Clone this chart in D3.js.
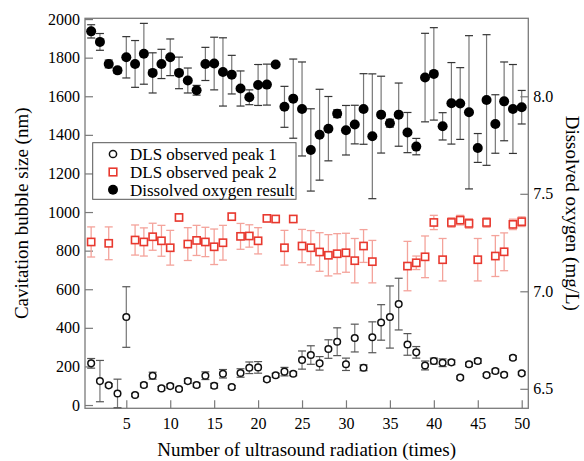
<!DOCTYPE html>
<html>
<head>
<meta charset="utf-8">
<script src="https://cdn.jsdelivr.net/npm/d3@7"></script>
<style>
  html, body { margin: 0; padding: 0; background: #fff; }
  svg { display: block; }
  text { font-family: "Liberation Serif", "Tinos", "Times New Roman", "DejaVu Serif", serif; fill: #000; }
</style>
</head>
<body>
<div id="chart"></div>
<script>
const WIDTH = 584;
const HEIGHT = 461;
const SERIF = '"Liberation Serif", "Tinos", "Times New Roman", "DejaVu Serif", serif';

// measurement number (1..50)
const runs = d3.range(1, 51);

// DLS peak 1 (nm) and its error
const peak1 = [216, 124, 102, 60, 456, 52, 104, 152, 86, 98, 83, 124, 104, 152, 100, 162, 93, 166, 193, 195,
  133, 154, 173, 162, 233, 259, 216, 290, 328, 211, 347, 193, 351, 428, 456, 523, 314, 273, 205, 228,
  219, 221, 142, 211, 228, 155, 176, 157, 245, 164];
const peak1Err = [25, 107, 8, 74, 157, 8, 10, 18, 10, 10, 8, 12, 10, 20, 12, 22, 8, 22, 30, 30,
  10, 10, 22, 10, 47, 48, 35, 48, 72, 32, 72, 15, 80, 92, 161, 134, 56, 30, 23, 15,
  20, 12, 8, 10, 12, 8, 10, 8, 10, 8];

// DLS peak 2 (nm), null where not observed
const peak2 = [845, null, 838, null, null, 855, 845, 872, 851, 815, 972, 834, 853, 845, 820, 841, 976, 874, 876, 851,
  967, 964, 815, 964, 824, 815, 793, 776, 784, 789, 748, 824, 743, null, null, null, 720, 737, 768, 946,
  753, 946, 958, 941, 753, 946, 772, 794, 936, 950];
const peak2Err = [78, 0, 85, 0, 0, 78, 73, 70, 80, 90, 18, 85, 78, 76, 92, 90, 18, 67, 58, 68,
  15, 15, 90, 15, 86, 89, 100, 107, 104, 101, 115, 85, 110, 0, 0, 0, 128, 35, 108, 37,
  110, 25, 25, 25, 110, 25, 106, 98, 27, 25];

// dissolved oxygen (mg/L) and its error
const oxygen = [8.333, 8.279, 8.166, 8.133, 8.200, 8.166, 8.218, 8.120, 8.166, 8.200, 8.120, 8.081, 8.031, 8.166, 8.168,
  8.125, 8.111, 8.040, 7.995, 8.058, 8.060, 8.163, 7.946, 7.988, 7.935, 7.725, 7.803, 7.834, 7.911, 7.826,
  7.855, 7.935, 7.795, 7.906, 7.862, 7.906, 7.814, 7.742, 8.096, 8.115, 7.846, 7.964, 7.963, 7.918, 7.735,
  7.981, 7.858, 7.974, 7.935, 7.944];
const oxygenErr = [0.034, 0.043, 0.02, 0.015, 0.106, 0.12, 0.156, 0.103, 0.075, 0.094, 0.081, 0.064, 0.025, 0.085, 0.135,
  0.175, 0.099, 0.09, 0.038, 0.105, 0.105, 0, 0.105, 0.203, 0.241, 0.211, 0.233, 0.165, 0.02, 0.127,
  0.099, 0.181, 0.32, 0.197, 0.02, 0.162, 0.103, 0.042, 0.227, 0.237, 0.07, 0.209, 0.184, 0.393, 0.074,
  0.335, 0.15, 0.202, 0.228, 0.086];

const xTicks = [5, 10, 15, 20, 25, 30, 35, 40, 45, 50];
const leftTicks = [0, 200, 400, 600, 800, 1000, 1200, 1400, 1600, 1800, 2000];
const rightTicks = [6.5, 7.0, 7.5, 8.0];

const legendLabels = ["DLS observed peak 1", "DLS observed peak 2", "Dissolved oxygen result"];

const margin = { top: 18.3, right: 55.7, bottom: 52.7, left: 85 };
const FRAME = "#7a7a7a";
const RED = "#e8392f";
const RED_LIGHT = "#f4a39b";

const x = d3.scaleLinear().domain([0.3, 50.75]).range([margin.left, WIDTH - margin.right]);
const yL = d3.scaleLinear().domain([-17, 2004]).range([HEIGHT - margin.bottom, margin.top]);
const yR = d3.scaleLinear().domain([6.4, 8.4]).range([HEIGHT - margin.bottom, margin.top]);

const svg = d3.select("#chart").append("svg")
  .attr("width", WIDTH)
  .attr("height", HEIGHT)
  .attr("font-family", SERIF);

// axes (ticks point inward)
const xAxisG = svg.append("g")
  .attr("transform", `translate(0,${HEIGHT - margin.bottom})`)
  .call(d3.axisBottom(x).tickValues(xTicks).tickSizeInner(-8).tickSizeOuter(0).tickPadding(9));

const yLAxisG = svg.append("g")
  .attr("transform", `translate(${margin.left},0)`)
  .call(d3.axisLeft(yL).tickValues(leftTicks).tickFormat(d3.format("d"))
    .tickSizeInner(-8).tickSizeOuter(0).tickPadding(5));

const yRAxisG = svg.append("g")
  .attr("transform", `translate(${WIDTH - margin.right},0)`)
  .call(d3.axisRight(yR).tickValues(rightTicks).tickFormat(d3.format(".1f"))
    .tickSizeInner(-8).tickSizeOuter(0).tickPadding(5));

[xAxisG, yLAxisG, yRAxisG].forEach(g => {
  g.attr("font-family", SERIF).attr("font-size", 16);
  g.select(".domain").remove();
  g.selectAll(".tick line").attr("stroke", FRAME).attr("stroke-width", 1.2);
  g.selectAll(".tick text").attr("fill", "#000");
});

// frame
svg.append("rect")
  .attr("x", margin.left)
  .attr("y", margin.top)
  .attr("width", WIDTH - margin.left - margin.right)
  .attr("height", HEIGHT - margin.top - margin.bottom)
  .attr("fill", "none")
  .attr("stroke", FRAME)
  .attr("stroke-width", 1.3);

// axis titles
svg.append("text")
  .attr("transform", `translate(28,${(margin.top + HEIGHT - margin.bottom) / 2}) rotate(-90)`)
  .attr("text-anchor", "middle")
  .attr("font-size", 19)
  .text("Cavitation bubble size (nm)");

svg.append("text")
  .attr("transform", `translate(566,${(margin.top + HEIGHT - margin.bottom) / 2}) rotate(90)`)
  .attr("text-anchor", "middle")
  .attr("font-size", 19)
  .text("Dissolved oxygen (mg/L)");

svg.append("text")
  .attr("x", (margin.left + WIDTH - margin.right) / 2)
  .attr("y", 456)
  .attr("text-anchor", "middle")
  .attr("font-size", 19)
  .text("Number of ultrasound radiation (times)");

function errorBars(data, yScale, lineColor, capColor, width) {
  const g = svg.append("g");
  const rows = data.filter(d => d.v !== null && d.e > 0);
  g.selectAll("line.bar").data(rows).join("line")
    .attr("x1", d => x(d.i)).attr("x2", d => x(d.i))
    .attr("y1", d => yScale(d.v - d.e)).attr("y2", d => yScale(d.v + d.e))
    .attr("stroke", lineColor).attr("stroke-width", width);
  [-1, 1].forEach(s => {
    g.selectAll(null).data(rows).join("line")
      .attr("x1", d => x(d.i) - 4).attr("x2", d => x(d.i) + 4)
      .attr("y1", d => yScale(d.v + s * d.e)).attr("y2", d => yScale(d.v + s * d.e))
      .attr("stroke", capColor).attr("stroke-width", width);
  });
}

const p1Data = runs.map((i, k) => ({ i, v: peak1[k], e: peak1Err[k] }));
const p2Data = runs.map((i, k) => ({ i, v: peak2[k], e: peak2Err[k] }));
const doData = runs.map((i, k) => ({ i, v: oxygen[k], e: oxygenErr[k] }));

// peak 2 (red squares)
errorBars(p2Data, yL, RED_LIGHT, RED_LIGHT, 1.3);
svg.append("g").selectAll("rect").data(p2Data.filter(d => d.v !== null)).join("rect")
  .attr("x", d => x(d.i) - 3.6)
  .attr("y", d => yL(d.v) - 3.6)
  .attr("width", 7.2)
  .attr("height", 7.2)
  .attr("fill", "#fff")
  .attr("stroke", RED)
  .attr("stroke-width", 1.6);

// peak 1 (open circles)
errorBars(p1Data, yL, "#777", "#555", 1.2);
svg.append("g").selectAll("circle").data(p1Data).join("circle")
  .attr("cx", d => x(d.i))
  .attr("cy", d => yL(d.v))
  .attr("r", 3.3)
  .attr("fill", "#fff")
  .attr("stroke", "#111")
  .attr("stroke-width", 1.5);

// dissolved oxygen (filled circles, right axis)
errorBars(doData, yR, "#777", "#333", 1.2);
svg.append("g").selectAll("circle").data(doData).join("circle")
  .attr("cx", d => x(d.i))
  .attr("cy", d => yR(d.v))
  .attr("r", 5)
  .attr("fill", "#000");

// legend
const legend = svg.append("g");
legend.append("rect")
  .attr("x", 92.7).attr("y", 142.7)
  .attr("width", 203.3).attr("height", 56.6)
  .attr("fill", "#fff")
  .attr("stroke", "#555")
  .attr("stroke-width", 1);

const rowY = [154, 172, 189.7];
legend.append("circle").attr("cx", 113).attr("cy", rowY[0]).attr("r", 3.6)
  .attr("fill", "#fff").attr("stroke", "#111").attr("stroke-width", 1.5);
legend.append("rect").attr("x", 113 - 3.8).attr("y", rowY[1] - 3.8).attr("width", 7.6).attr("height", 7.6)
  .attr("fill", "#fff").attr("stroke", RED).attr("stroke-width", 1.6);
legend.append("circle").attr("cx", 113).attr("cy", rowY[2]).attr("r", 5).attr("fill", "#000");

legend.selectAll("text").data(legendLabels).join("text")
  .attr("x", 130)
  .attr("y", (d, k) => rowY[k])
  .attr("dy", "0.35em")
  .attr("font-size", 17)
  .text(d => d);
</script>
</body>
</html>
